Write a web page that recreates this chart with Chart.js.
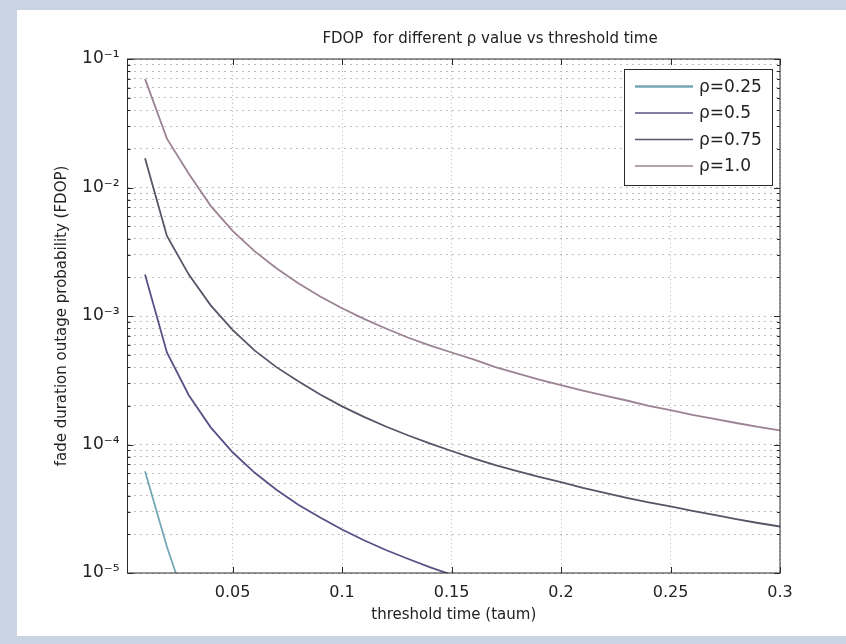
<!DOCTYPE html>
<html>
<head>
<meta charset="utf-8">
<script src="https://cdn.jsdelivr.net/npm/chart.js@4.4.1/dist/chart.umd.min.js"></script>
<style>
html, body { margin: 0; padding: 0; background: #c9d4e2; overflow: hidden; }
canvas { display: block; }
</style>
</head>
<body>
<canvas id="meu_grafico" width="846" height="644"></canvas>
<script>
// tempo de limiar (taum) - eixo x
const tau = [0.01, 0.02, 0.03, 0.04, 0.05, 0.06, 0.07, 0.08, 0.09, 0.10,
             0.11, 0.12, 0.13, 0.14, 0.15, 0.16, 0.17, 0.18, 0.19, 0.20,
             0.21, 0.22, 0.23, 0.24, 0.25, 0.26, 0.27, 0.28, 0.29, 0.30];

// FDOP, um array por valor de rho
const fdopRho025 = [6.2e-5, 1.6e-5, 5.0e-6];
const fdopRho05 = [2.1e-3, 5.2e-4, 2.42e-4, 1.36e-4, 8.7e-5, 6.05e-5, 4.45e-5, 3.4e-5, 2.7e-5, 2.18e-5,
                   1.8e-5, 1.51e-5, 1.29e-5, 1.11e-5, 9.7e-6, 8.5e-6];
const fdopRho075 = [1.69e-2, 4.2e-3, 2.1e-3, 1.21e-3, 7.8e-4, 5.4e-4, 4.0e-4, 3.1e-4, 2.45e-4, 1.98e-4,
                    1.64e-4, 1.38e-4, 1.18e-4, 1.02e-4, 8.9e-5, 7.8e-5, 6.9e-5, 6.2e-5, 5.6e-5, 5.1e-5,
                    4.6e-5, 4.2e-5, 3.85e-5, 3.55e-5, 3.3e-5, 3.05e-5, 2.83e-5, 2.63e-5, 2.45e-5, 2.3e-5];
const fdopRho10 = [7.0e-2, 2.4e-2, 1.28e-2, 7.2e-3, 4.6e-3, 3.2e-3, 2.35e-3, 1.8e-3, 1.42e-3, 1.15e-3,
                   9.5e-4, 8.0e-4, 6.8e-4, 5.9e-4, 5.2e-4, 4.6e-4, 4.0e-4, 3.58e-4, 3.2e-4, 2.9e-4,
                   2.63e-4, 2.4e-4, 2.2e-4, 2.0e-4, 1.85e-4, 1.7e-4, 1.58e-4, 1.47e-4, 1.37e-4, 1.29e-4];

const rotulos = ['\u03c1=0.25', '\u03c1=0.5', '\u03c1=0.75', '\u03c1=1.0'];
const series = [fdopRho025, fdopRho05, fdopRho075, fdopRho10];
const cores = ['#74a7b5', '#5c4f86', '#5a5468', '#9b8394'];

// ticks dos eixos
const xTicks = [0.05, 0.1, 0.15, 0.2, 0.25, 0.3];
const xTickRotulos = ['0.05', '0.1', '0.15', '0.2', '0.25', '0.3'];
const yDecadas = [-5, -4, -3, -2, -1];

const titulo = 'FDOP  for different \u03c1 value vs threshold time';
const tituloX = 'threshold time (taum)';
const tituloY = 'fade duration outage probability (FDOP)';

const sobrescrito = {'-': '\u207b', '0': '\u2070', '1': '\u00b9', '2': '\u00b2', '3': '\u00b3', '4': '\u2074', '5': '\u2075'};

function Potencia(e) {
    return '10' + String(e).split('').map(c => sobrescrito[c]).join('');
}

// ticks do eixo log: 1..9 x 10^e em cada decada
function TicksLog() {
    const ticks = [];
    for (let i = 0; i < yDecadas.length; i++) {
        const e = yDecadas[i];
        if (i === yDecadas.length - 1) {
            ticks.push({ value: Math.pow(10, e), label: Potencia(e) });
            break;
        }
        for (let m = 1; m <= 9; m++) {
            ticks.push({ value: Number((m * Math.pow(10, e)).toPrecision(3)), label: m === 1 ? Potencia(e) : '' });
        }
    }
    return ticks;
}

// fundo, caixa do grafico, ticks internos, titulo e legenda
const moldura = {
    id: 'moldura',
    beforeDraw(chart) {
        const ctx = chart.ctx;
        ctx.save();
        ctx.fillStyle = '#c9d4e2';
        ctx.fillRect(0, 0, chart.width, chart.height);
        ctx.fillStyle = '#ffffff';
        ctx.fillRect(17, 10, chart.width - 17, 626);
        ctx.restore();
    },
    afterDraw(chart) {
        const { ctx, chartArea: a, scales: { x, y } } = chart;
        ctx.save();
        ctx.strokeStyle = '#2a2a2a';
        ctx.lineWidth = 1;
        ctx.strokeRect(a.left, a.top, a.right - a.left, a.bottom - a.top);

        ctx.beginPath();
        y.ticks.forEach(t => {
            const py = Math.round(y.getPixelForValue(t.value)) + 0.5;
            const len = t.label ? 6 : 3;
            ctx.moveTo(a.left, py); ctx.lineTo(a.left + len, py);
            ctx.moveTo(a.right, py); ctx.lineTo(a.right - len, py);
        });
        x.ticks.forEach(t => {
            const px = Math.round(x.getPixelForValue(t.value)) + 0.5;
            ctx.moveTo(px, a.bottom); ctx.lineTo(px, a.bottom - 6);
            ctx.moveTo(px, a.top); ctx.lineTo(px, a.top + 6);
        });
        ctx.stroke();

        // titulo
        ctx.fillStyle = '#222';
        ctx.font = '15px "DejaVu Sans"';
        ctx.textAlign = 'center';
        ctx.textBaseline = 'middle';
        ctx.fillText(titulo, 490, 39);

        // legenda
        const lx = 624.5, ly = 69.5, lw = 148, lh = 116;
        ctx.fillStyle = '#ffffff';
        ctx.fillRect(lx, ly, lw, lh);
        ctx.strokeStyle = '#2a2a2a';
        ctx.strokeRect(lx, ly, lw, lh);
        ctx.font = '17px "DejaVu Sans"';
        ctx.textAlign = 'left';
        chart.data.datasets.forEach((ds, i) => {
            const ry = ly + 17 + i * 26.5;
            ctx.strokeStyle = ds.borderColor;
            ctx.lineWidth = i === 0 ? 2.5 : 1.5;
            ctx.beginPath();
            ctx.moveTo(635, ry);
            ctx.lineTo(693, ry);
            ctx.stroke();
            ctx.fillStyle = '#222';
            ctx.fillText(ds.label, 699, ry + 1);
        });
        ctx.restore();
    }
};

function GerarGrafico() {
    const datasets = [];
    for (let i = 0; i < series.length; i++) {
        datasets.push({
            label: rotulos[i],
            data: series[i].map((v, j) => ({ x: tau[j], y: v })),
            borderColor: cores[i],
            borderWidth: 1.8,
            pointRadius: 0,
            fill: false,
            tension: 0
        });
    }

    const ctx = document.getElementById('meu_grafico').getContext('2d');
    new Chart(ctx, {
        type: 'line',
        data: { datasets: datasets },
        options: {
            responsive: false,
            animation: false,
            devicePixelRatio: 1,
            layout: { padding: { left: 40, right: 66, top: 59, bottom: 10 } },
            plugins: {
                legend: { display: false },
                title: { display: false },
                tooltip: { enabled: false }
            },
            scales: {
                x: {
                    type: 'linear',
                    min: 0.002,
                    max: 0.3,
                    afterBuildTicks: s => { s.ticks = xTicks.map(v => ({ value: v })); },
                    afterFit: s => { s.height = 61; },
                    ticks: {
                        autoSkip: false,
                        maxRotation: 0,
                        padding: 10,
                        color: '#222',
                        font: { family: 'DejaVu Sans', size: 16 },
                        callback: (v, i) => xTickRotulos[i]
                    },
                    grid: { color: '#bdbdbd', lineWidth: 1, drawTicks: false },
                    border: { display: false, dash: [1, 3] },
                    title: {
                        display: true,
                        text: tituloX,
                        color: '#222',
                        font: { family: 'DejaVu Sans', size: 15 },
                        padding: { top: 0, bottom: 10 }
                    }
                },
                y: {
                    type: 'logarithmic',
                    min: 1e-5,
                    max: 1e-1,
                    afterBuildTicks: s => { s.ticks = TicksLog(); },
                    afterFit: s => { s.width = 87.5; },
                    ticks: {
                        autoSkip: false,
                        padding: 8,
                        color: '#222',
                        font: { family: 'DejaVu Sans', size: 17 },
                        callback: function (v, i, ticks) { return ticks[i].label; }
                    },
                    grid: { color: '#bdbdbd', lineWidth: 1, drawTicks: false },
                    border: { display: false, dash: [2, 4] },
                    title: {
                        display: true,
                        text: tituloY,
                        color: '#222',
                        font: { family: 'DejaVu Sans', size: 15 },
                        padding: { top: 13, bottom: 0 }
                    }
                }
            }
        },
        plugins: [moldura]
    });
}

GerarGrafico();
</script>
</body>
</html>
